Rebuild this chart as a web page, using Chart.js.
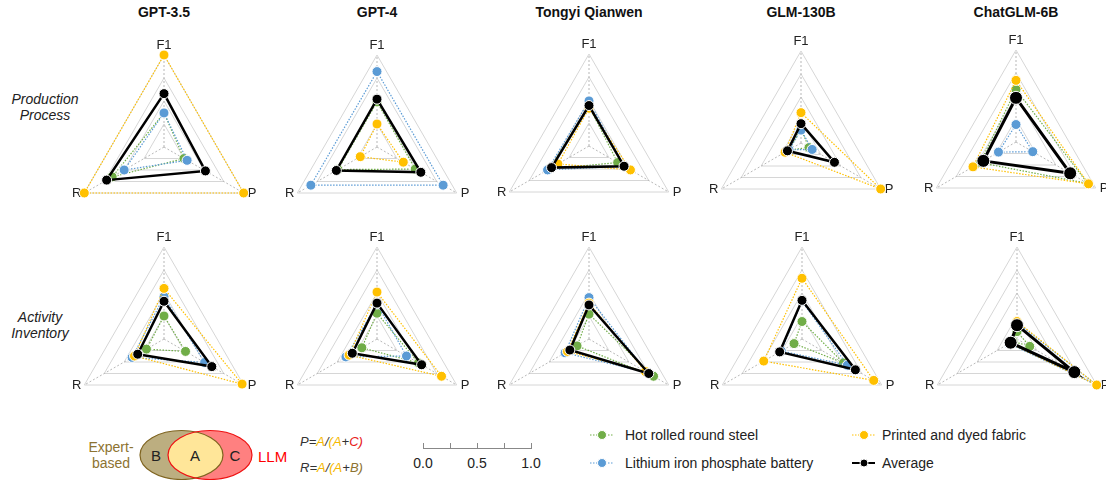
<!DOCTYPE html>
<html lang="en">
<head>
    <meta charset="UTF-8">
    <title>LLM extraction radar charts</title>
    <style>
        body {
            margin: 0;
            background: #fff;
        }
        #stage {
            position: relative;
            width: 1106px;
            height: 480px;
            overflow: hidden;
            font-family: "Liberation Sans", Arial, sans-serif;
        }
        #stage svg {
            position: absolute;
            left: 0;
            top: 0;
        }
        #stage canvas {
            position: absolute;
        }
    </style>
</head>
<body>

<div id="stage">
    <svg width="1106" height="480" font-family="Liberation Sans, Arial, sans-serif">
        <g id="titles" font-size="14" font-weight="bold" fill="#111" text-anchor="middle"></g>
        <g font-size="14" font-style="italic" fill="#222" text-anchor="middle">
            <text x="45" y="104">Production</text>
            <text x="45" y="120">Process</text>
            <text x="40" y="322">Activity</text>
            <text x="40" y="338">Inventory</text>
        </g>

        <!-- venn -->
        <defs>
            <clipPath id="clipL"><ellipse cx="181.5" cy="455" rx="41.5" ry="24.5"/></clipPath>
        </defs>
        <ellipse cx="181.5" cy="455" rx="41.5" ry="24.5" fill="#bcae80"/>
        <ellipse cx="210" cy="455" rx="42" ry="24.5" fill="#ff8080"/>
        <ellipse cx="210" cy="455" rx="42" ry="24.5" fill="#ffe699" clip-path="url(#clipL)"/>
        <ellipse cx="181.5" cy="455" rx="41.5" ry="24.5" fill="none" stroke="#7f6420" stroke-width="1.2"/>
        <ellipse cx="210" cy="455" rx="42" ry="24.5" fill="none" stroke="#ee1111" stroke-width="1.2"/>
        <g font-size="15" fill="#222" text-anchor="middle">
            <text x="156" y="461">B</text>
            <text x="195" y="461">A</text>
            <text x="235" y="461">C</text>
        </g>
        <g font-size="14" fill="#8d7331" text-anchor="middle">
            <text x="111" y="452">Expert-</text>
            <text x="111" y="468">based</text>
        </g>
        <text x="258" y="462" font-size="15" fill="#ff0000">LLM</text>

        <!-- formulas -->
        <g font-size="13" font-style="italic" fill="#333">
            <text x="300" y="446">P=<tspan fill="#f5b800">A</tspan>/<tspan fill="#f5b800">(A</tspan>+<tspan fill="#e82020">C)</tspan></text>
            <text x="300" y="472">R=<tspan fill="#f5b800">A</tspan>/<tspan fill="#f5b800">(A</tspan>+<tspan fill="#8d7331">B)</tspan></text>
        </g>

        <!-- scale bar -->
        <g stroke="#888" stroke-width="1" fill="none">
            <line x1="423" y1="448.5" x2="532" y2="448.5"/>
            <line x1="423.5" y1="443" x2="423.5" y2="448.5"/>
            <line x1="450.5" y1="443" x2="450.5" y2="448.5"/>
            <line x1="477.5" y1="443" x2="477.5" y2="448.5"/>
            <line x1="504.5" y1="443" x2="504.5" y2="448.5"/>
            <line x1="531.5" y1="443" x2="531.5" y2="448.5"/>
        </g>
        <g font-size="14" fill="#222" text-anchor="middle">
            <text x="423" y="468">0.0</text>
            <text x="477" y="468">0.5</text>
            <text x="531" y="468">1.0</text>
        </g>

        <!-- series legend -->
        <g id="legend" font-size="14" fill="#222"></g>
    </svg>
</div>

<script src="https://cdn.jsdelivr.net/npm/chart.js"></script>
<script>
    // models and axes
    const models = ['GPT-3.5', 'GPT-4', 'Tongyi Qianwen', 'GLM-130B', 'ChatGLM-6B'];
    const axes = ['F1', 'P', 'R'];
    const seriesNames = ['Hot rolled round steel', 'Lithium iron phosphate battery', 'Printed and dyed fabric', 'Average'];

    // values per model, as [F1, P, R]
    // production process
    const steelProcess   = [[0.37, 0.25, 0.65], [0.49, 0.48, 0.49], [0.43, 0.36, 0.50], [0.15, 0.10, 0.15], [0.57, 0.90, 0.45]];
    const batteryProcess = [[0.37, 0.29, 0.50], [0.82, 0.83, 0.83], [0.49, 0.44, 0.52], [0.14, 0.14, 0.15], [0.19, 0.21, 0.22]];
    const fabricProcess  = [[1.00, 1.00, 1.00], [0.25, 0.33, 0.21], [0.41, 0.52, 0.39], [0.33, 1.00, 0.20], [0.67, 0.91, 0.54]];
    const averageProcess = [[0.58, 0.52, 0.72], [0.52, 0.55, 0.51], [0.44, 0.44, 0.47], [0.21, 0.42, 0.17], [0.48, 0.68, 0.41]];
    // activity inventory
    const steelInventory   = [[0.25, 0.27, 0.22], [0.28, 0.52, 0.19], [0.27, 0.81, 0.15], [0.19, 0.52, 0.10], [0.08, 0.16, 0.05]];
    const batteryInventory = [[0.46, 0.51, 0.40], [0.38, 0.37, 0.39], [0.45, 0.73, 0.30], [0.41, 0.57, 0.26], [0.18, 1.00, 0.10]];
    const fabricInventory  = [[0.55, 0.98, 0.37], [0.51, 0.81, 0.35], [0.39, 0.71, 0.27], [0.66, 0.90, 0.48], [0.19, 1.00, 0.09]];
    const averageInventory = [[0.41, 0.60, 0.33], [0.39, 0.56, 0.31], [0.37, 0.75, 0.24], [0.42, 0.67, 0.28], [0.15, 0.72, 0.08]];

    const colors = ['#70ad47', '#5b9bd5', '#ffc000', '#000000'];

    // panel centres (px)
    const colX = [[164, 377, 589, 801, 1016], [164, 377, 589, 802, 1017]];
    const rowY = [[147, 147, 146, 143, 142], [339, 339, 339, 339, 339]];
    const R = 92;
    const PAD = 23;
    const SIZE = 2 * (R + PAD);

    const stage = document.getElementById('stage');
    const svgNS = 'http://www.w3.org/2000/svg';

    // titles
    const titles = document.getElementById('titles');
    models.forEach((m, i) => {
        const t = document.createElementNS(svgNS, 'text');
        t.setAttribute('x', colX[0][i]);
        t.setAttribute('y', 17);
        t.textContent = m;
        titles.appendChild(t);
    });

    // series legend
    const legend = document.getElementById('legend');
    const legendPos = [[590, 435], [590, 463], [852, 435], [852, 463]];
    seriesNames.forEach((name, i) => {
        const [x, y] = legendPos[i];
        const isAvg = i === 3;
        const ln = document.createElementNS(svgNS, 'line');
        ln.setAttribute('x1', x); ln.setAttribute('x2', x + 23);
        ln.setAttribute('y1', y); ln.setAttribute('y2', y);
        ln.setAttribute('stroke', colors[i]);
        ln.setAttribute('stroke-width', isAvg ? 2 : 1);
        if (!isAvg) ln.setAttribute('stroke-dasharray', '1.5 1.5');
        legend.appendChild(ln);
        const c = document.createElementNS(svgNS, 'circle');
        c.setAttribute('cx', x + 12); c.setAttribute('cy', y);
        c.setAttribute('r', isAvg ? 4 : 4.5);
        c.setAttribute('fill', colors[i]);
        c.setAttribute('stroke', '#fff');
        c.setAttribute('stroke-width', 1);
        legend.appendChild(c);
        const t = document.createElementNS(svgNS, 'text');
        t.setAttribute('x', x + (i < 2 ? 35 : 30));
        t.setAttribute('y', y + 5);
        t.textContent = name;
        legend.appendChild(t);
    });

    // F1 / P / R labels at the vertices
    const axisLabels = {
        id: 'axisLabels',
        beforeDatasetsDraw(chart) {
            const s = chart.scales.r;
            const ctx = chart.ctx;
            ctx.save();
            ctx.font = '13px "Liberation Sans", Arial, sans-serif';
            ctx.fillStyle = '#222';
            ctx.textBaseline = 'middle';
            axes.forEach((lab, i) => {
                const p = s.getPointPosition(i, s.drawingArea);
                if (i === 0) {
                    ctx.textAlign = 'center';
                    ctx.fillText(lab, p.x, p.y - 10);
                } else if (i === 1) {
                    ctx.textAlign = 'left';
                    ctx.fillText(lab, p.x + 4, p.y);
                } else {
                    ctx.textAlign = 'right';
                    ctx.fillText(lab, p.x - 3, p.y);
                }
            });
            ctx.restore();
        }
    };

    function makePanel(row, col, sets) {
        const cv = document.createElement('canvas');
        cv.width = SIZE;
        cv.height = SIZE;
        cv.style.left = (colX[row][col] - SIZE / 2) + 'px';
        cv.style.top = (rowY[row][col] - SIZE / 2) + 'px';
        stage.appendChild(cv);

        const big = col === 4;
        const datasets = sets.map((vals, k) => {
            const avg = k === 3;
            return {
                label: seriesNames[k],
                data: vals,
                order: 3 - k,
                clip: false,
                fill: false,
                borderColor: colors[k],
                borderWidth: avg ? (big ? 3 : 2.5) : 1.2,
                borderDash: avg ? [] : [1.5, 1.5],
                pointBackgroundColor: colors[k],
                pointBorderColor: '#ffffff',
                pointBorderWidth: 1,
                pointRadius: avg && big ? 6.5 : 5,
                pointHoverRadius: 5
            };
        });

        new Chart(cv, {
            type: 'radar',
            data: { labels: axes, datasets: datasets },
            options: {
                responsive: false,
                animation: false,
                layout: { padding: PAD },
                plugins: { legend: { display: false }, tooltip: { enabled: false } },
                elements: { line: { tension: 0 } },
                scales: {
                    r: {
                        min: 0,
                        max: 1,
                        ticks: { display: false, stepSize: 0.25 },
                        pointLabels: { display: false },
                        grid: { color: '#d6d6d6', lineWidth: 1 },
                        angleLines: { color: '#b8b8b8', lineWidth: 1, borderDash: [2, 2] }
                    }
                }
            },
            plugins: [axisLabels]
        });
    }

    models.forEach((m, i) => {
        makePanel(0, i, [steelProcess[i], batteryProcess[i], fabricProcess[i], averageProcess[i]]);
        makePanel(1, i, [steelInventory[i], batteryInventory[i], fabricInventory[i], averageInventory[i]]);
    });
</script>

</body>
</html>
